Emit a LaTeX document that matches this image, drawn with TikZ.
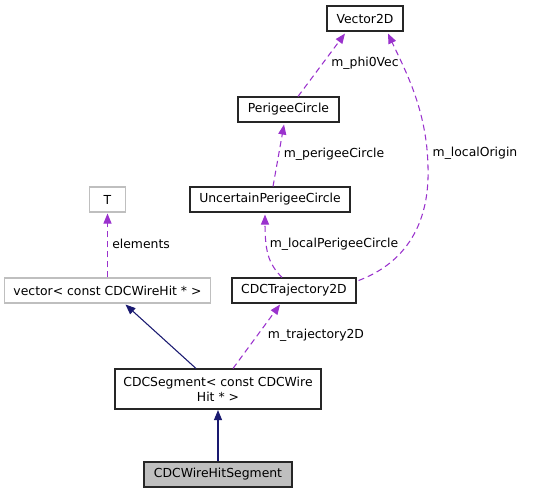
\documentclass[tikz,border=0pt]{standalone}
\usepackage{fontspec}
\setmainfont{DejaVu Sans}
\usetikzlibrary{arrows.meta,calc}
\definecolor{edgepurple}{HTML}{9A32CD}
\definecolor{edgenavy}{HTML}{191970}
\definecolor{boxgray}{HTML}{BFBFBF}
\tikzset{
  cls/.style={draw=black!85, line width=0.8pt, minimum height=25*0.75pt, inner sep=0pt, font=\fontsize{9.3}{11}\selectfont},
  extcls/.style={cls, draw=boxgray},
  member/.style={draw=edgepurple, line width=0.8pt, dash pattern=on 4.5pt off 3pt, -{Triangle[length=7.5pt,width=6pt]}},
  inherit/.style={draw=edgenavy, line width=0.8pt, -{Triangle[length=7.5pt,width=6pt]}},
  lbl/.style={font=\fontsize{9.3}{11}\selectfont, inner sep=0pt}
}
\begin{document}
\begin{tikzpicture}[x=0.75pt,y=-0.75pt]
    \useasboundingbox (0,0) rectangle (559,493);
      \node[cls, minimum width=76*0.75pt] (vec2d) at(365, 18.5){Vector2D};
      \node[cls, minimum width=101*0.75pt] (peri) at(288.5, 109.5){PerigeeCircle};
      \node[cls, minimum width=160*0.75pt] (unc) at(270, 199.5){UncertainPerigeeCircle};
      \node[extcls, minimum width=36*0.75pt] (tparam) at(107.5, 199.5){T};
      \node[extcls, minimum width=206*0.75pt] (vecwire) at(107.5, 290.5){vector< const CDCWireHit * >};
      \node[cls, minimum width=124*0.75pt] (traj) at(294, 290.5){CDCTrajectory2D};
      \node[cls, minimum width=206*0.75pt, minimum height=40*0.75pt, align=center] (seg) at(218, 389){CDCSegment< const CDCWire\\Hit * >};
      \node[cls, fill=boxgray, minimum width=148*0.75pt] (wireseg) at(218, 474.5){CDCWireHitSegment};
      % members
      \draw[member] ($(peri.north)+(9.5,0)$) -- ($(vec2d.south)+(-20,2)$);
      \node[lbl] (lphi) at(365, 63){m\_phi0Vec};
      \draw[member] ($(traj.east)+(2,-10)$) .. controls (400,265) and (430,230) .. (428,167)
            .. controls (427,110) and (405,70) .. ($(vec2d.south)+(23,2)$);
      \node[lbl] (lorig) at(475, 153){m\_localOrigin};
      \draw[member] ($(unc.north)+(3,0)$) -- ($(peri.south)+(-4.5,2)$);
      \node[lbl] (lperi) at(334, 154){m\_perigeeCircle};
      \draw[member] ($(traj.north)+(-12,0)$) .. controls (270,265) and (265,255) .. ($(unc.south)+(-5,2)$);
      \node[lbl] (llocal) at(334, 244){m\_localPerigeeCircle};
      \draw[member] (vecwire.north) -- ($(tparam.south)+(0,1)$);
      \node[lbl, anchor=west] (lelem) at(112, 244){elements};
      \draw[member] ($(seg.north)+(15,0)$) -- ($(traj.south)+(-14,1)$);
      \node[lbl] (ltraj) at(316, 335){m\_trajectory2D};
      % bases
      \draw[inherit] ($(seg.north)+(-22,0)$) -- ($(vecwire.south)+(18,1)$);
      \draw[inherit] (wireseg.north) -- ($(seg.south)+(0,0.5)$);
    \end{tikzpicture}
\end{document}
